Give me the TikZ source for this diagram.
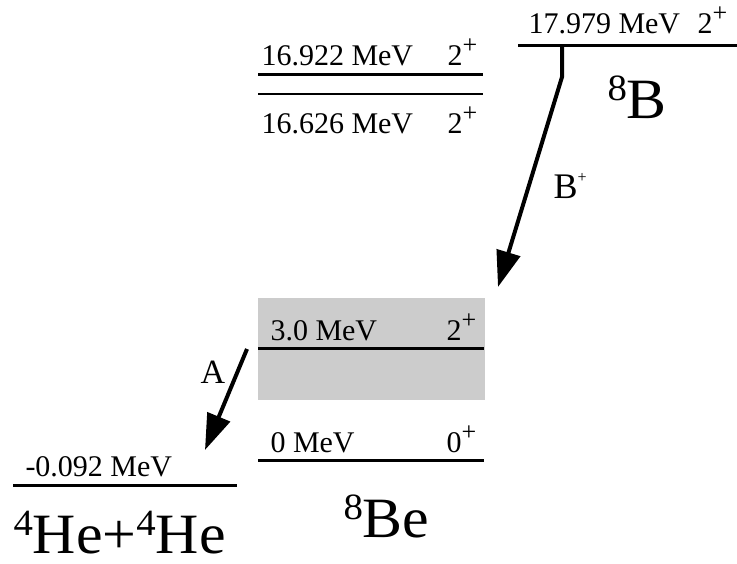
\documentclass[tikz,border=0pt]{standalone}
\usepackage{fontspec}
\setmainfont{Liberation Serif}
\newfontfamily\nucface{Liberation Serif}[FakeStretch=1.05]
\usetikzlibrary{arrows.meta}
\newcommand\lvlfont{\fontsize{30}{32}\selectfont}
\newcommand\nucfont{\nucface\fontsize{57}{60}\selectfont}
\newcommand\massno[1]{\raisebox{18pt}{\fontsize{37}{37}\selectfont #1}}
\newcommand\spin[1]{#1\raisebox{12pt}{\fontsize{26}{26}\selectfont +}}
\tikzset{
  lbl/.style={font=\lvlfont, inner sep=0pt},
  nuc/.style={font=\nucfont, inner sep=0pt},
  decay/.style={line width=4pt, -{Triangle[length=36pt,width=24pt]}}
}
\begin{document}
\begin{tikzpicture}[x=1pt, y=-1pt, line width=3pt]
  \useasboundingbox (0,0) rectangle (737,563);
  % 8B and 8Be levels
  \fill[gray!40] (258,298) rectangle (485,400);
  \draw (258,74) -- (483,74);
  \draw[line width=2.3pt] (258,94) -- (483,94);
  \draw (518,45) -- (737,45);
  \draw (258,348) -- (484,348);
  \draw (258,460) -- (484,460);
  \draw (13,485) -- (237,485);
  % level labels
  \node[lbl, anchor=base west] (e16922) at (260,65) {16.922 MeV};
  \node[lbl, anchor=base west] (j16922) at (446,65) {\spin{2}};
  \node[lbl, anchor=base west] (e16626) at (260,133) {16.626 MeV};
  \node[lbl, anchor=base west] (j16626) at (446,133) {\spin{2}};
  \node[lbl, anchor=base west] (e17979) at (527,33) {17.979 MeV};
  \node[lbl, anchor=base west] (j17979) at (696,33) {\spin{2}};
  \node[lbl, anchor=base west] (e3) at (269,340) {3.0 MeV};
  \node[lbl, anchor=base west] (j3) at (445,340) {\spin{2}};
  \node[lbl, anchor=base west] (e0) at (269,452) {0 MeV};
  \node[lbl, anchor=base west] (j0) at (445,452) {\spin{0}};
  \node[lbl, anchor=base west] (ealpha) at (24,476) {-0.092 MeV};
  % nuclei
  \node[nuc, anchor=base west] (b8) at (606,118) {\massno{8}B};
  \node[nuc, anchor=base west] (be8) at (342,537) {\massno{8}Be};
  \node[nuc, anchor=base west] (he4) at (12,553) {\massno{4}He+\massno{4}He};
  % decays
  \coordinate (bstart) at (562,45);
  \coordinate (bbend) at (562,77);
  \coordinate (bend) at (498,287);
  \draw[decay] (bstart) -- (bbend) -- (bend);
  \node[inner sep=0pt, anchor=base west, font=\fontsize{36}{36}\selectfont] (bplus) at (552,198) {B\raisebox{16pt}{\fontsize{16}{16}\selectfont +}};
  \coordinate (astart) at (247,349);
  \coordinate (aend) at (205,450);
  \draw[decay] (astart) -- (aend);
  \node[inner sep=0pt, anchor=base west, font=\fontsize{34}{34}\selectfont] (alab) at (199,383) {A};
\end{tikzpicture}
\end{document}
